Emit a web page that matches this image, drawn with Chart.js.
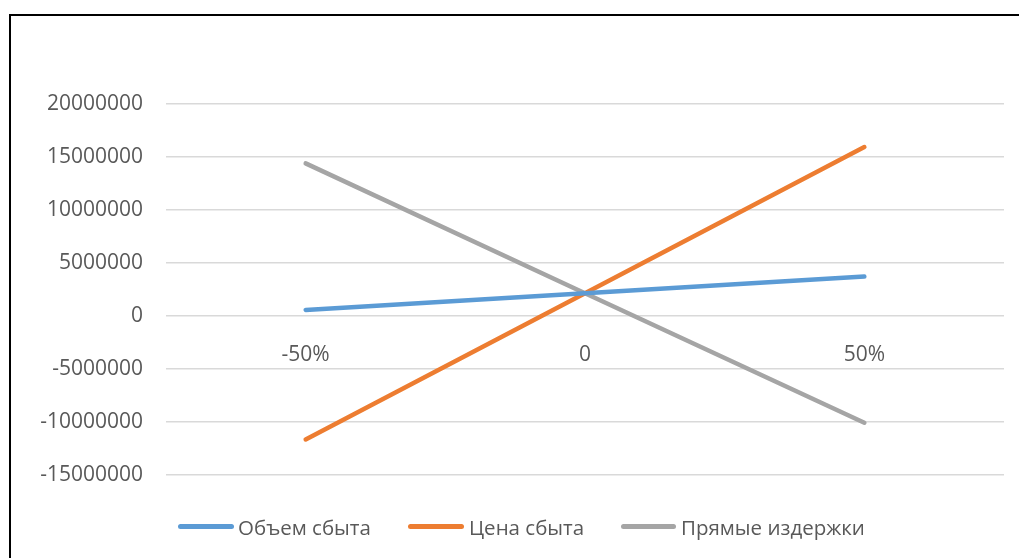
<!DOCTYPE html>
<html lang="ru">
<head>
  <meta charset="UTF-8" />
  <title>Чувствительность</title>
  <script src="https://cdn.jsdelivr.net/npm/chart.js"></script>
  <style>
    html, body { margin: 0; padding: 0; background: #fff; }
    #wrap { position: relative; width: 1019px; height: 558px; overflow: hidden; }
    #chart { position: absolute; left: 0; top: 0; }
    .frame { position: absolute; left: 9px; top: 14px; width: 1100px; height: 600px;
             border-left: 2px solid #000; border-top: 2px solid #000; }
    .legend { position: absolute; left: 0; top: 0; font-family: "Open Sans", sans-serif; font-size: 20.5px; color: #595959; }
    .legend .ln { position: absolute; height: 5px; border-radius: 3px; top: 524px; }
    .legend .tx { position: absolute; top: 513px; line-height: 28px; white-space: nowrap; }
  </style>
</head>
<body>
<div id="wrap">
  <canvas id="chart" width="1019" height="558"></canvas>
  <div class="frame"></div>
  <div class="legend" id="legend"></div>
</div>
<script>
  // категории (изменение фактора)
  const categories = ['-50%', '0', '50%'];

  // значения рядов
  const obemSbyta = [570000, 2150000, 3720000];
  const tsenaSbyta = [-11650000, 2150000, 15940000];
  const pryamyeIzderzhki = [14400000, 2150000, -10070000];

  // деления оси Y
  const yTicks = [-15000000, -10000000, -5000000, 0, 5000000, 10000000, 15000000, 20000000];

  const seriesNames = ['Объем сбыта', 'Цена сбыта', 'Прямые издержки'];
  const seriesColors = ['#5b9bd5', '#ed7d31', '#a5a5a5'];
  const seriesData = [obemSbyta, tsenaSbyta, pryamyeIzderzhki];

  const tickFont = { family: '"Open Sans", sans-serif', size: 21 };

  new Chart(document.getElementById('chart').getContext('2d'), {
    type: 'line',
    data: {
      labels: categories,
      datasets: seriesData.map((d, i) => ({
        label: seriesNames[i],
        data: d,
        borderColor: seriesColors[i],
        backgroundColor: seriesColors[i],
        borderWidth: 4.5,
        borderCapStyle: 'round',
        borderJoinStyle: 'round',
        pointRadius: 0,
        tension: 0
      }))
    },
    options: {
      responsive: false,
      animation: false,
      layout: { padding: { left: 0, right: 15, top: 104, bottom: 83 } },
      plugins: {
        legend: { display: false },
        tooltip: { enabled: false }
      },
      scales: {
        x: {
          position: { y: 0 },
          offset: true,
          grid: { display: false },
          border: { display: false },
          ticks: { color: '#595959', font: tickFont, padding: 18, maxRotation: 0 }
        },
        y: {
          min: -15000000,
          max: 20000000,
          afterBuildTicks: (scale) => { scale.ticks = yTicks.map(v => ({ value: v })); },
          afterFit: (scale) => { scale.width = 166; },
          grid: { color: '#d9d9d9', lineWidth: 1.5, drawTicks: false },
          border: { display: false },
          ticks: {
            color: '#595959', font: tickFont, padding: 23,
            callback: (v) => String(v)
          }
        }
      }
    }
  });

  // легенда
  const legendPos = [[178, 234, 238], [408, 464, 469], [621, 676, 681]];
  const legend = document.getElementById('legend');
  seriesNames.forEach((name, i) => {
    const ln = document.createElement('div');
    ln.className = 'ln';
    ln.style.left = legendPos[i][0] + 'px';
    ln.style.width = (legendPos[i][1] - legendPos[i][0]) + 'px';
    ln.style.background = seriesColors[i];
    legend.appendChild(ln);
    const tx = document.createElement('span');
    tx.className = 'tx';
    tx.style.left = legendPos[i][2] + 'px';
    tx.textContent = name;
    legend.appendChild(tx);
  });
</script>
</body>
</html>
